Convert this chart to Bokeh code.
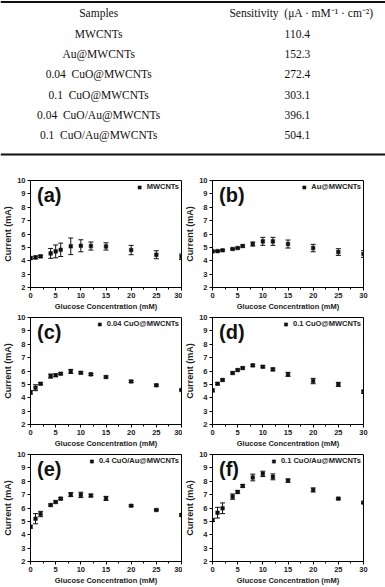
from bokeh.plotting import figure
from bokeh.models import (ColumnDataSource, Whisker, TeeHead, FixedTicker,
                          Range1d, Label, Span)
from bokeh.layouts import column, row
from bokeh.embed import file_html
from bokeh.resources import INLINE
from bokeh.core.properties import value

# ---- sensitivity table ----
samples = ["MWCNTs", "Au@MWCNTs", "0.04\u00a0 CuO@MWCNTs", "0.1\u00a0 CuO@MWCNTs",
           "0.04\u00a0 CuO/Au@MWCNTs", "0.1\u00a0 CuO/Au@MWCNTs"]
sensitivity = [110.4, 152.3, 272.4, 303.1, 396.1, 504.1]
table_headers = ["Samples", "Sensitivity\u00a0 (\u03bcA \u00b7 mM\u207b\u00b9 \u00b7 cm\u207b\u00b2)"]

# ---- current vs. glucose concentration ----
conc = [0, 1, 2, 4, 5, 6, 8, 10, 12, 15, 20, 25, 30]
panel_tags = ["(a)", "(b)", "(c)", "(d)", "(e)", "(f)"]
series_names = ["MWCNTs", "Au@MWCNTs", "0.04 CuO@MWCNTs", "0.1 CuO@MWCNTs",
                "0.4 CuO/Au@MWCNTs", "0.1 CuO/Au@MWCNTs"]

current_a = [4.20, 4.25, 4.33, 4.55, 4.70, 4.82, 5.08, 5.12, 5.10, 5.07, 4.80, 4.45, 4.30]
err_a = [0.08, 0.10, 0.08, 0.37, 0.48, 0.50, 0.62, 0.45, 0.30, 0.27, 0.35, 0.30, 0.20]

current_b = [4.70, 4.72, 4.78, 4.88, 4.95, 5.10, 5.25, 5.45, 5.45, 5.25, 4.95, 4.65, 4.50]
err_b = [0.05, 0.05, 0.05, 0.06, 0.06, 0.08, 0.15, 0.30, 0.30, 0.30, 0.28, 0.25, 0.25]

current_c = [4.40, 4.75, 5.05, 5.62, 5.68, 5.80, 5.97, 5.87, 5.75, 5.55, 5.22, 4.93, 4.58]
err_c = [0.12, 0.22, 0.08, 0.15, 0.10, 0.08, 0.15, 0.08, 0.08, 0.08, 0.08, 0.08, 0.06]

current_d = [4.55, 5.05, 5.33, 5.85, 6.07, 6.22, 6.42, 6.32, 6.12, 5.75, 5.25, 5.00, 4.45]
err_d = [0.10, 0.08, 0.08, 0.08, 0.08, 0.08, 0.08, 0.08, 0.10, 0.15, 0.20, 0.15, 0.12]

current_e = [4.60, 5.20, 5.55, 6.22, 6.45, 6.70, 7.00, 6.98, 6.93, 6.72, 6.17, 5.85, 5.48]
err_e = [0.10, 0.38, 0.20, 0.08, 0.08, 0.08, 0.15, 0.20, 0.10, 0.15, 0.06, 0.06, 0.08]

current_f = [5.10, 5.65, 5.98, 6.85, 7.20, 7.65, 8.28, 8.55, 8.33, 8.05, 7.35, 6.70, 6.40]
err_f = [0.10, 0.40, 0.40, 0.20, 0.10, 0.10, 0.25, 0.20, 0.22, 0.12, 0.15, 0.06, 0.06]

y_ticks = [2, 3, 4, 5, 6, 7, 8, 9, 10]
x_ticks = [0, 5, 10, 15, 20, 25, 30]
x_minor = [2.5, 7.5, 12.5, 17.5, 22.5, 27.5]

SERIF = "Liberation Serif"
SANS = "Liberation Sans"


def make_table():
    t = figure(width=385, height=176, x_range=Range1d(0, 1),
               y_range=Range1d(8.03, -0.64), x_axis_type=None, y_axis_type=None,
               output_backend="svg", toolbar_location=None, min_border=0)
    t.grid.visible = False
    t.outline_line_color = None
    rows_idx = list(range(1, len(samples) + 1))
    common = dict(text_font=value(SERIF), text_font_size="11.5px",
                  text_align="center", text_baseline="middle", text_color="#111111")
    t.text(x=[0.255, 0.782], y=[0, 0], text=table_headers, **common)
    t.text(x=[0.255] * len(samples), y=rows_idx, text=samples, **common)
    t.text(x=[0.771] * len(samples), y=rows_idx,
           text=[f"{v:.1f}" for v in sensitivity], **common)
    t.add_layout(Span(location=-0.57, dimension="width", line_color="#111111", line_width=2))
    t.add_layout(Span(location=6.95, dimension="width", line_color="#111111", line_width=2))
    return t


def make_panel(tag, name, cur, err, width, left, right):
    lower = [c - e for c, e in zip(cur, err)]
    upper = [c + e for c, e in zip(cur, err)]
    src = ColumnDataSource(dict(x=conc, y=cur, lower=lower, upper=upper))
    p = figure(width=width, height=137, x_range=Range1d(0, 30), y_range=Range1d(2, 10),
               output_backend="svg", toolbar_location=None,
               min_border_left=left, min_border_right=right,
               min_border_top=4, min_border_bottom=24)
    p.grid.visible = False
    p.outline_line_color = "black"
    p.outline_line_alpha = 1
    p.outline_line_width = 1

    p.add_layout(Whisker(base="x", lower="lower", upper="upper", source=src,
                         line_color="#111111", line_width=1,
                         upper_head=TeeHead(size=5, line_color="#111111", line_width=1),
                         lower_head=TeeHead(size=5, line_color="#111111", line_width=1)))
    p.scatter("x", "y", source=src, marker="square", size=3.6, line_width=0.5,
              fill_color="#111111", line_color="#111111", legend_label=name)

    p.xaxis.ticker = FixedTicker(ticks=x_ticks, minor_ticks=x_minor)
    p.yaxis.ticker = FixedTicker(ticks=y_ticks)
    p.xaxis.axis_label = "Glucose Concentration (mM)"
    p.yaxis.axis_label = "Current (mA)"
    for ax in (p.xaxis, p.yaxis):
        ax.axis_line_color = "black"
        ax.major_tick_line_color = "black"
        ax.minor_tick_line_color = "black"
        ax.major_tick_in = 0
        ax.major_tick_out = 3
        ax.minor_tick_in = 0
        ax.minor_tick_out = 2
        ax.major_label_standoff = 2
        ax.axis_label_standoff = 1
        ax.major_label_text_font = SANS
        ax.major_label_text_font_size = "7.5px"
        ax.major_label_text_font_style = "bold"
        ax.major_label_text_color = "#222222"
        ax.axis_label_text_font = SANS
        ax.axis_label_text_font_style = "bold"
        ax.axis_label_text_color = "#222222"
    p.xaxis.axis_label_text_font_size = "7.5px"
    p.yaxis.axis_label_text_font_size = "9px"
    p.yaxis.minor_tick_out = 0

    p.add_layout(Label(x=1.3, y=8.9, text=tag, text_font=SANS, text_font_size="20px",
                       text_font_style="bold", text_baseline="middle", text_color="#111111"))

    lg = p.legend[0]
    lg.location = "top_right"
    lg.background_fill_alpha = 0
    lg.border_line_alpha = 0
    lg.margin = 2
    lg.padding = 0
    lg.spacing = 0
    lg.glyph_width = 9
    lg.glyph_height = 8
    lg.label_height = 9
    lg.label_standoff = 3
    lg.label_text_font = SANS
    lg.label_text_font_size = "7.5px"
    lg.label_text_font_style = "bold"
    lg.label_text_color = "#222222"
    return p


series = [(current_a, err_a), (current_b, err_b), (current_c, err_c),
          (current_d, err_d), (current_e, err_e), (current_f, err_f)]
panels = []
for i, (cur, err) in enumerate(series):
    if i % 2 == 0:
        panels.append(make_panel(panel_tags[i], series_names[i], cur, err, 182, 29, 1))
    else:
        panels.append(make_panel(panel_tags[i], series_names[i], cur, err, 203, 27, 22))

layout = column(make_table(),
                row(panels[0], panels[1]),
                row(panels[2], panels[3]),
                row(panels[4], panels[5]))

open("out.html", "w").write(file_html(layout, INLINE))
